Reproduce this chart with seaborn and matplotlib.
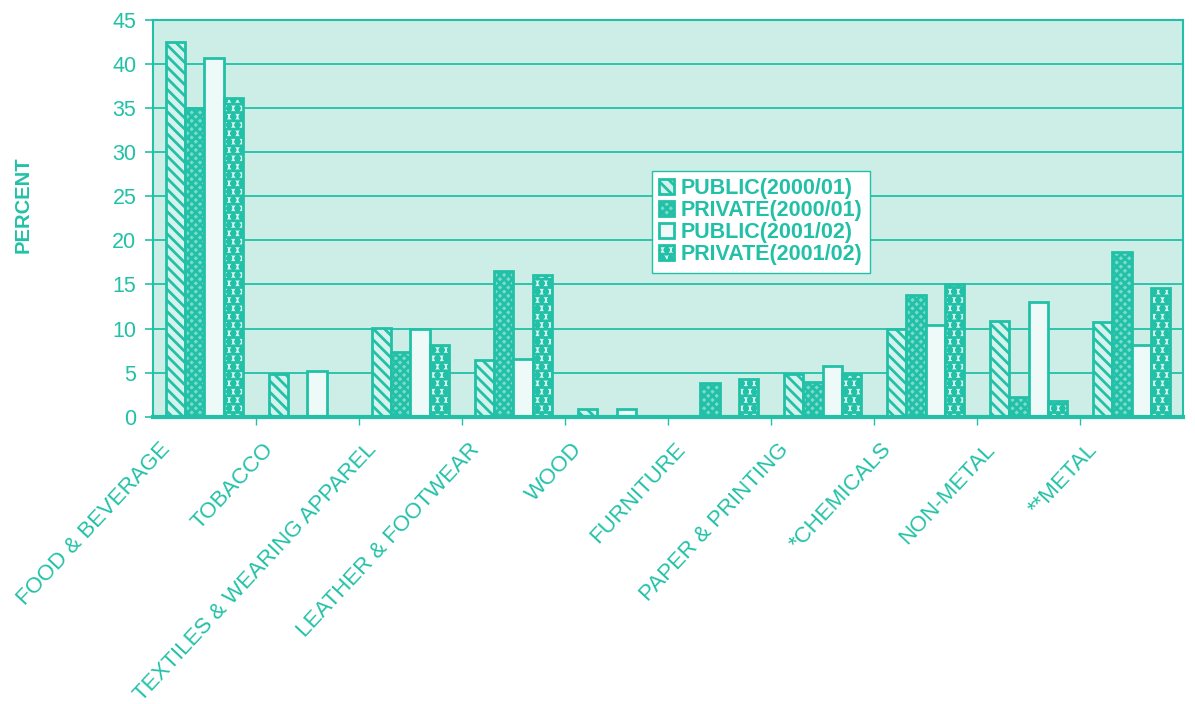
import pandas as pd
import matplotlib.pyplot as plt
import matplotlib.transforms as mtransforms
import seaborn as sns

# ---------------- data ----------------
sectors = ['FOOD & BEVERAGE', 'TOBACCO', 'TEXTILES & WEARING APPAREL',
           'LEATHER & FOOTWEAR', 'WOOD', 'FURNITURE', 'PAPER & PRINTING',
           '*CHEMICALS', 'NON-METAL', '**METAL']
series = ['PUBLIC(2000/01)', 'PRIVATE(2000/01)', 'PUBLIC(2001/02)', 'PRIVATE(2001/02)']

public_0001 = [42.5, 4.9, 10.1, 6.4, 0.9, 0.1, 4.9, 9.9, 10.8, 10.7]
private_0001 = [35.0, 0.0, 7.3, 16.5, 0.0, 3.8, 3.9, 13.8, 2.2, 18.7]
public_0102 = [40.7, 5.2, 9.9, 6.6, 0.9, 0.1, 5.8, 10.4, 13.0, 8.1]
private_0102 = [36.1, 0.0, 8.1, 16.1, 0.0, 4.3, 4.9, 15.1, 1.8, 14.6]

values = [public_0001, private_0001, public_0102, private_0102]
df = pd.DataFrame({
    'sector': [s for _ in series for s in sectors],
    'series': [name for name in series for _ in sectors],
    'percent': [v for vals in values for v in vals],
})

# ---------------- styling ----------------
teal = '#22c1a7'
sns.set_theme(style='white')
plt.rcParams['font.family'] = ['Liberation Sans', 'DejaVu Sans']
plt.rcParams['hatch.linewidth'] = 2.0

fig = plt.figure(figsize=(11.95, 7.04), dpi=100)
ax = fig.add_axes([0.128, 0.408, 0.862, 0.564])
ax.set_facecolor('#cdede7')

sns.barplot(data=df, x='sector', y='percent', hue='series', order=sectors,
            hue_order=series, width=0.75, gap=0, legend=False, ax=ax,
            palette=['#cdede7'] * 4, saturation=1, err_kws={'linewidth': 0})

fills = ['#d6f2ed', '#7cdbca', '#eefaf8', '#d6f2ed']
hatches = ['\\\\\\', 'xxxx', '', 'oo--']
for cont, fc, h in zip(ax.containers, fills, hatches):
    for bar in cont:
        bar.set_facecolor(fc)
        bar.set_edgecolor(teal)
        bar.set_linewidth(2)
        bar.set_hatch(h)

ax.set_ylim(0, 45)
ax.set_xlim(-0.5, len(sectors) - 0.5)
ax.set_yticks(range(0, 46, 5))
ax.yaxis.grid(True, color=teal, linewidth=1.3)
ax.set_axisbelow(True)
ax.tick_params(axis='y', colors=teal, labelsize=15.5, length=6, width=1.2,
               direction='out', left=True, pad=6)
ax.set_xlabel('')
ax.set_ylabel('PERCENT', color=teal, fontsize=14.5, fontweight='bold')
ax.yaxis.set_label_coords(-0.117, 0.535)

# category labels at centres, small ticks at the boundaries
ax.set_xticks(range(len(sectors)))
ax.set_xticklabels(sectors, rotation=47, ha='right', rotation_mode='anchor',
                   color=teal, fontsize=16)
ax.tick_params(axis='x', length=0, pad=16)
shift = mtransforms.ScaledTranslation(-0.45, 0, fig.dpi_scale_trans)
for lab in ax.get_xticklabels():
    lab.set_transform(lab.get_transform() + shift)
ax.set_xticks([i + 0.5 for i in range(len(sectors) - 1)], minor=True)
ax.tick_params(axis='x', which='minor', bottom=True, length=6, width=1,
               color=teal, direction='out')

for side in ['left', 'top', 'right', 'bottom']:
    ax.spines[side].set_visible(True)
    ax.spines[side].set_color(teal)
    ax.spines[side].set_linewidth(1.5)
ax.spines['bottom'].set_linewidth(3)

leg = ax.legend(ax.containers, series, loc='upper left',
                bbox_to_anchor=(0.484, 0.62), frameon=True, fancybox=False,
                prop={'size': 15.5, 'weight': 'bold'}, labelspacing=0.05,
                handlelength=0.7, handleheight=0.7, handletextpad=0.3,
                borderpad=0.35, borderaxespad=0)
leg.get_frame().set_edgecolor(teal)
leg.get_frame().set_linewidth(1)
leg.get_frame().set_facecolor('white')
leg.get_frame().set_alpha(1)
for t in leg.get_texts():
    t.set_color(teal)

fig.savefig('out.png', dpi=100)
